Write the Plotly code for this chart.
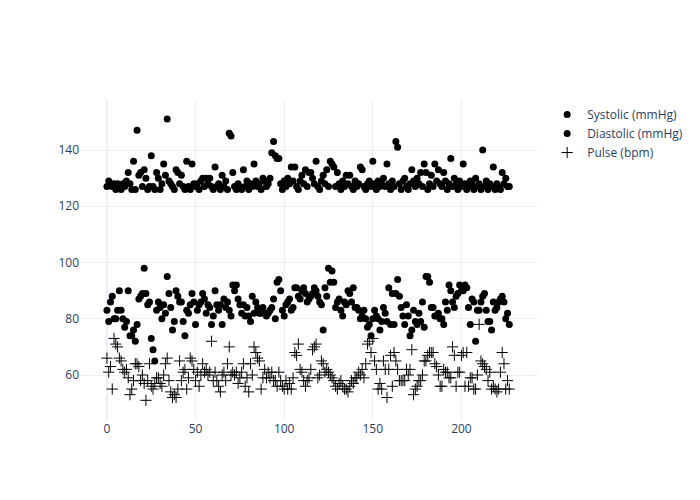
import plotly.graph_objects as go

systolic = [127,129,128,127,128,126,128,127,126,128,127,129,132,128,126,136,126,147,131,132,
127,133,130,126,127,138,127,126,132,130,126,128,135,131,151,129,128,127,126,133,
132,128,131,127,126,136,127,126,135,128,127,128,126,129,130,127,130,128,130,127,
126,134,127,128,126,131,127,129,126,146,145,132,127,126,128,127,126,133,127,129,
126,128,127,135,129,127,128,126,130,129,127,128,130,139,143,138,137,137,128,126,
129,127,130,128,134,129,134,127,126,129,131,128,133,127,132,132,130,128,136,127,
126,129,131,128,133,127,136,135,134,127,132,128,126,129,127,131,128,131,127,126,
129,127,128,134,133,127,126,128,129,127,136,128,126,129,127,128,130,127,135,128,
126,129,127,143,141,128,126,129,130,127,126,128,133,129,127,130,128,132,127,135,
132,126,128,131,127,135,129,133,128,127,132,129,126,128,137,127,130,128,126,129,
127,135,128,126,127,129,128,126,130,127,128,126,140,127,129,126,128,127,134,126,
128,127,126,132,128,130,127,127]

diastolic = [83,79,86,88,80,80,83,90,83,80,77,79,90,74,74,76,72,78,87,88,
89,98,89,85,86,73,69,65,83,86,84,80,85,82,95,89,84,76,79,90,
88,86,86,79,74,83,82,85,89,86,78,83,85,86,89,87,82,85,84,78,
81,90,85,83,85,78,87,84,86,83,81,92,90,92,87,85,82,85,81,84,
81,79,88,82,86,84,82,82,84,82,81,82,83,84,87,80,93,94,90,83,
81,85,86,87,83,84,91,91,88,87,90,91,89,86,87,88,89,91,90,88,
86,85,76,91,88,98,93,97,93,84,86,87,83,81,86,85,90,89,86,91,
84,84,83,80,81,83,80,77,78,74,80,83,81,80,76,79,84,82,79,91,
78,89,78,89,94,88,84,81,78,85,81,74,76,83,79,78,82,79,86,77,
95,95,93,84,84,81,81,82,80,80,78,86,83,92,90,86,84,88,89,92,
90,90,92,91,84,78,87,86,72,83,83,86,88,89,83,79,79,76,86,83,
84,86,87,88,86,80,82,78]

pulse = [66,61,63,55,73,71,70,66,65,62,61,62,59,53,55,58,64,64,63,58,
60,57,51,58,64,56,55,57,59,59,57,56,60,64,66,58,54,52,53,52,
55,65,58,61,62,55,59,66,65,62,58,61,56,60,64,61,62,60,61,72,
58,61,58,56,54,60,61,58,64,70,60,61,60,61,57,59,61,64,56,59,
54,64,60,70,68,66,65,55,59,62,59,61,59,61,58,58,56,61,58,56,
55,58,55,57,55,59,68,67,71,62,61,58,56,58,59,62,69,70,71,59,
60,65,64,61,62,61,60,59,58,56,55,57,58,56,55,55,54,56,58,57,
59,59,61,60,62,59,64,71,72,68,73,65,62,55,57,55,65,62,52,62,
67,56,68,65,62,58,58,58,58,62,60,62,69,53,55,56,58,58,60,65,
65,67,68,68,68,64,63,60,56,56,62,61,61,59,59,70,67,56,61,61,
67,68,56,68,56,59,59,55,55,60,78,65,64,63,62,58,61,55,56,55,
54,55,61,68,64,55,58,55]

x_idx = list(range(len(systolic)))

fig = go.Figure()
fig.add_trace(go.Scatter(x=x_idx, y=systolic, mode="markers", name="Systolic (mmHg)",
                         marker=dict(color="black", size=7, symbol="circle")))
fig.add_trace(go.Scatter(x=x_idx, y=diastolic, mode="markers", name="Diastolic (mmHg)",
                         marker=dict(color="black", size=7, symbol="circle")))
fig.add_trace(go.Scatter(x=x_idx, y=pulse, mode="markers", name="Pulse (bpm)",
                         marker=dict(color="black", size=8, symbol="cross-thin",
                                     line=dict(color="black", width=1))))
fig.update_layout(
    template="plotly_white", width=700, height=500,
    xaxis=dict(range=[-15.2, 243.2]),
    yaxis=dict(range=[44.0, 157.8]),
)
fig.write_html("out.html",
               config={"displayModeBar": False},
               post_script="document.body.style.margin='0';document.body.style.overflow='hidden';")
